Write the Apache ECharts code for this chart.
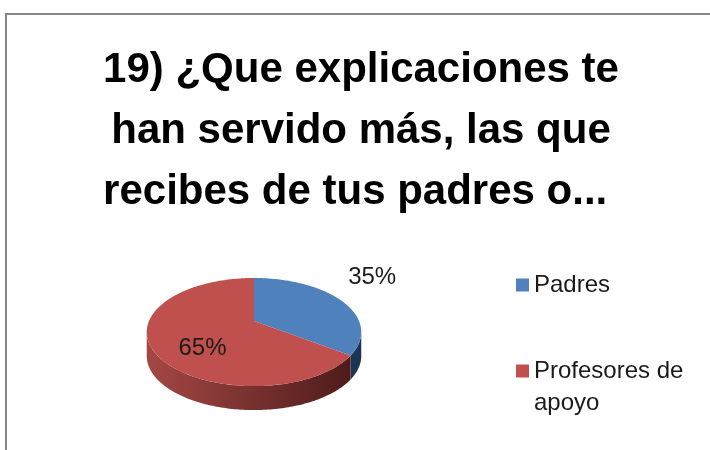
<!DOCTYPE html>
<html>
<head>
<meta charset="utf-8">
<script src="https://cdn.jsdelivr.net/npm/echarts@6/dist/echarts.min.js"></script>
<style>
  html, body { margin: 0; padding: 0; background: #fff; }
  #chart { width: 710px; height: 450px; }
</style>
</head>
<body>
<div id="chart"></div>
<script>
var titleLines = ['19) ¿Que explicaciones te', 'han servido más, las que', 'recibes de tus padres o...\u00a0'];
var categories = ['Padres', 'Profesores de apoyo'];
var values = [35, 65];
var topColors = ['#4f81bd', '#c0504d'];
var sideColors = [['#2a4a70', '#1c3453'], ['#a34744', '#4a1a19']];

var total = values.reduce(function (s, v) { return s + v; }, 0);

// pie geometry (3d look, pixels)
var CX = 254, CY = 321, RX = 105, RY = 51.8, K = 0.204, DEPTH = 24;
var labelPos = [{ k: 1.38, dy: -14 }, { k: 0.5, dy: 14 }];

function rim(t) {
    var u = Math.sin(t), v = -Math.cos(t);
    var f = 1 / (1 - K * v);
    return [CX + RX * u * f, CY + RY * v * f];
}

function arcPoints(a0, a1) {
    var pts = [];
    var n = Math.max(2, Math.ceil((a1 - a0) / (Math.PI / 180)));
    for (var i = 0; i <= n; i++) pts.push(rim(a0 + (a1 - a0) * i / n));
    return pts;
}

var sideFrom = Math.PI / 2 + Math.asin(K);
var sideTo = 3 * Math.PI / 2 - Math.asin(K);

function renderSlice(idx) {
    return function (params, api) {
        var start = api.value(0), val = api.value(1);
        var a0 = start / total * 2 * Math.PI;
        var a1 = (start + val) / total * 2 * Math.PI;
        var children = [];

        var s0 = Math.max(a0, sideFrom), s1 = Math.min(a1, sideTo);
        if (s1 > s0) {
            var up = arcPoints(s0, s1);
            var down = up.map(function (p) { return [p[0], p[1] + DEPTH]; }).reverse();
            children.push({
                type: 'polygon',
                shape: { points: up.concat(down) },
                style: {
                    fill: {
                        type: 'linear', x: CX - RX, y: 0, x2: CX + RX, y2: 0, global: true,
                        colorStops: [{ offset: 0, color: sideColors[idx][0] }, { offset: 1, color: sideColors[idx][1] }]
                    }
                }
            });
        }

        children.push({
            type: 'polygon',
            shape: { points: [[CX, CY]].concat(arcPoints(a0, a1)) },
            style: { fill: api.visual('color') }
        });

        var mid = rim((a0 + a1) / 2);
        var lp = labelPos[idx];
        children.push({
            type: 'text',
            style: {
                text: Math.round(val / total * 100) + '%',
                x: CX + (mid[0] - CX) * lp.k,
                y: CY + (mid[1] - CY) * lp.k + lp.dy,
                align: 'center',
                verticalAlign: 'middle',
                fill: '#1a1a1a',
                font: '24px "Liberation Sans"'
            }
        });
        return { type: 'group', children: children };
    };
}

// wrap long legend names; a leading empty line keeps the first line level with the marker
function legendText(name) {
    if (name.length <= 14) return name;
    var cut = name.lastIndexOf(' ', 14);
    return '\n' + name.slice(0, cut) + '\n' + name.slice(cut + 1);
}

var series = [];
var cum = 0;
for (var i = 0; i < categories.length; i++) {
    series.push({
        name: categories[i],
        type: 'custom',
        coordinateSystem: 'none',
        itemStyle: { color: topColors[i] },
        renderItem: renderSlice(i),
        data: [[cum, values[i]]]
    });
    cum += values[i];
}

var chart = echarts.init(document.getElementById('chart'));
chart.setOption({
    animation: false,
    title: {
        text: titleLines.join('\n'),
        left: 361,
        top: 40,
        padding: 0,
        textAlign: 'center',
        textStyle: {
            fontFamily: 'Liberation Sans',
            fontWeight: 'bold',
            fontSize: 42,
            lineHeight: 61,
            color: '#000'
        }
    },
    legend: {
        orient: 'vertical',
        left: 516,
        top: 269,
        height: 400,
        padding: 0,
        icon: 'rect',
        itemWidth: 13,
        itemHeight: 13,
        itemGap: 22,
        selectedMode: false,
        formatter: legendText,
        textStyle: {
            fontFamily: 'Liberation Sans',
            fontSize: 24,
            lineHeight: 32,
            color: '#1a1a1a'
        },
        data: categories
    },
    graphic: [{
        type: 'rect',
        shape: { x: 6, y: 14, width: 760, height: 500 },
        style: { fill: 'none', stroke: '#878787', lineWidth: 2 },
        silent: true
    }],
    series: series
});
</script>
</body>
</html>
